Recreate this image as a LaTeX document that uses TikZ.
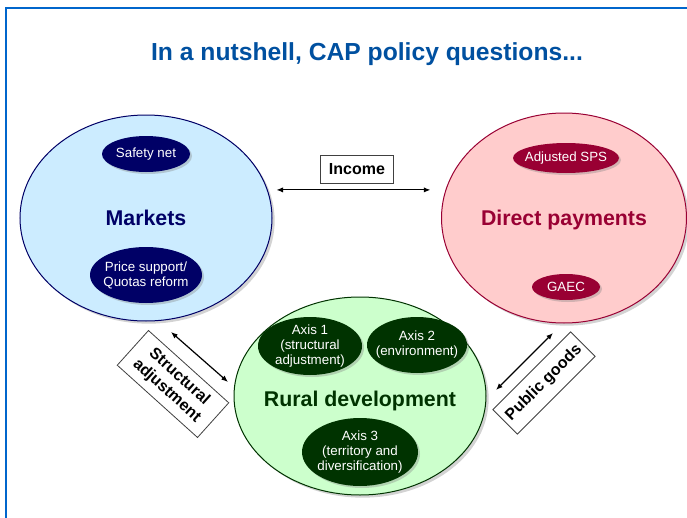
\documentclass[tikz,border=0pt]{standalone}
\usepackage{fontspec}
\setmainfont{Liberation Sans}
\usetikzlibrary{shapes.geometric,shadows,arrows.meta}

\definecolor{frameblue}{RGB}{0,102,204}
\definecolor{titleblue}{RGB}{0,80,160}
\definecolor{mktfill}{RGB}{204,236,255}
\definecolor{mktdark}{RGB}{0,0,102}
\definecolor{dpfill}{RGB}{255,204,204}
\definecolor{dpdark}{RGB}{153,0,51}
\definecolor{rdfill}{RGB}{204,255,204}
\definecolor{rddark}{RGB}{0,51,0}

\begin{document}
\begin{tikzpicture}[x=0.75pt, y=-0.75pt,
    pillar/.style={ellipse, draw, line width=0.75pt, inner sep=0pt,
        drop shadow={shadow xshift=2pt, shadow yshift=-2pt, opacity=0.35}},
    pillartext/.style={font=\fontsize{16}{19}\selectfont\bfseries},
    measure/.style={ellipse, inner xsep=-6pt, inner ysep=-3pt, text=white, align=center,
        font=\fontsize{10}{11.25}\selectfont,
        drop shadow={shadow xshift=1.5pt, shadow yshift=-1.5pt, opacity=0.35}},
    theme/.style={rectangle, draw=black!75, line width=0.6pt, fill=white, align=center,
        font=\fontsize{12}{14}\selectfont\bfseries},
    link/.style={{Latex[length=5pt,width=4pt]}-{Latex[length=5pt,width=4pt]}, line width=0.9pt}]

    \useasboundingbox (0,0) rectangle (687,518);

    % Frame and title
    \draw[frameblue, line width=1.5pt] (6,518) |- (687,8);
    \node[font=\fontsize{18.5}{22}\selectfont\bfseries, text=titleblue] (title) at (367,54)
        {In a nutshell, CAP policy questions...};

    % Markets
    \node[pillar, draw=mktdark, fill=mktfill, minimum width=189pt, minimum height=154.5pt,
        label={[pillartext, text=mktdark]center:Markets}] (markets) at (146,218) {};
    \node[measure, fill=mktdark, minimum width=66pt, minimum height=27pt] (safety) at (146,154) {Safety net};
    \node[measure, fill=mktdark, minimum width=84pt, minimum height=42pt] (price) at (146,275)
        {Price support/\\Quotas reform};

    % Direct payments
    \node[pillar, draw=dpdark, fill=dpfill, minimum width=183.75pt, minimum height=157.5pt,
        label={[pillartext, text=dpdark, yshift=-1.5pt]center:Direct payments}] (direct) at (564,218) {};
    \node[measure, fill=dpdark, minimum width=79.5pt, minimum height=22.5pt] (sps) at (566,158) {Adjusted SPS};
    \node[measure, fill=dpdark, minimum width=51pt, minimum height=19.5pt] (gaec) at (566,287) {GAEC};

    % Rural development
    \node[pillar, draw=rddark, fill=rdfill, minimum width=189pt, minimum height=148.5pt,
        label={[pillartext, text=rddark, yshift=-4pt]center:Rural development}] (rural) at (360,396) {};
    \node[measure, fill=rddark, minimum width=78pt, minimum height=43.5pt] (axis1) at (310,346)
        {Axis 1\\(structural\\adjustment)};
    \node[measure, fill=rddark, minimum width=75pt, minimum height=42pt] (axis2) at (417,345)
        {Axis 2\\(environment)};
    \node[measure, fill=rddark, minimum width=87pt, minimum height=51pt] (axis3) at (360,452)
        {Axis 3\\(territory and\\diversification)};

    % Themes between the pillars
    \node[theme, minimum width=54.75pt, minimum height=21pt] (income) at (357,169) {Income};
    \node[theme, rotate=-42, minimum width=81pt, minimum height=35pt] (structural) at (173,384)
        {Structural\\adjustment};
    \node[theme, rotate=45, minimum width=82.5pt, minimum height=26pt] (public) at (544,383) {Public goods};

    % Arrows
    \coordinate (sa-top) at (171,332);
    \coordinate (sa-bot) at (228,382);
    \coordinate (pg-bot) at (496,390);
    \coordinate (pg-top) at (553,333);
    \draw[link, shorten <=6.5pt, shorten >=7.9pt] (markets.13) -- (markets.13 -| direct.west);
    \draw[link] (sa-top) -- (sa-bot);
    \draw[link] (pg-bot) -- (pg-top);
\end{tikzpicture}
\end{document}
